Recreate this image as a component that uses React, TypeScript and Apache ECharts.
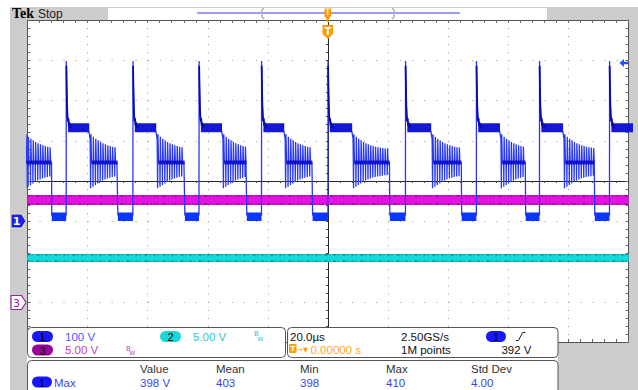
import React, { useEffect, useRef } from "react";
import * as echarts from "echarts";

// ---- scope settings ----
const timeMin = -100; // µs (20 µs/div, 10 div)
const timeMax = 100;
const timeInterval = 20;
const divMin = -4;
const divMax = 4;
const ch1Scale = 100; // V/div
const ch1Offset = -1.0; // div
const ch23Scale = 5; // V/div
const ch23Offset = -3.0; // div

// ---- channel 1 waveform (µs, V) ----
const ringStart = [-100.6, -79.0, -56.7, -34.8, -14.1, 8.5, 34.8, 57.7, 78.7];
const dropTimes = [-92.0, -70.0, -47.7, -27.1, -5.2, 20.5, 44.4, 65.7, 88.7];
const riseTimes = [-87.1, -64.9, -42.9, -22.1, 0.0, 25.8, 49.4, 70.4, 93.7];
const ringPeriod = 0.8; // µs
const ringHigh = [216, 210, 205, 201, 197, 194, 191, 189, 187, 185, 184, 183, 182, 181, 181, 180];
const ringLow = [82, 86, 90, 94, 98, 101, 104, 106, 108, 110, 111, 112, 113, 114, 114, 115];
const ringCore = 146;
const lowLevel = 11;
const plateauLevel = 232;
const spikePeak = 398;
const spikeDecayOffsets = [0.12, 0.25, 0.4, 0.55, 0.7, 0.85, 1.0, 1.2, 1.4, 1.7];
const spikeDecayValues = [340, 290, 262, 248, 256, 238, 246, 233, 238, 232];
const droopOffsets = [-1.0, -0.5, -0.15];
const droopValues = [229, 221, 204];

// ---- channels 2 & 3 (V) ----
const ch2Times = [-100, 100];
const ch2Values = [5.43, 5.43];
const ch3Times = [-100, 100];
const ch3Values = [12.64, 12.64];

// ---- readouts ----
const measHeaders = ["Value", "Mean", "Min", "Max", "Std Dev"];
const measValues = ["398 V", "403", "398", "410", "4.00"];
const measX = [140, 216, 300, 386, 471];

type P = [number, number | null];

function buildCh1() {
  const trace: P[] = [];
  const plateau: P[] = [];
  const low: P[] = [];
  const core: P[] = [];
  const spike: P[] = [];
  for (let i = 0; i < ringStart.length; i++) {
    const rs = ringStart[i];
    const dt = dropTimes[i];
    const rt = riseTimes[i];
    for (let c = 0; ; c++) {
      const tc = rs + c * ringPeriod;
      if (tc + 0.3 > dt) break;
      const k = Math.min(c, ringHigh.length - 1);
      trace.push([tc, ringLow[k]], [tc + 0.12, ringHigh[k]], [tc + 0.3, ringCore], [Math.min(tc + ringPeriod - 0.05, dt), ringCore]);
    }
    core.push([rs + 0.3, ringCore], [dt, ringCore], [dt + 0.01, null]);
    trace.push([dt + 0.08, lowLevel + 4], [rt - 0.03, lowLevel + 4]);
    low.push([dt + 0.08, lowLevel], [rt - 0.02, lowLevel], [rt, null]);
    trace.push([rt, spikePeak]);
    spike.push([rt + 0.03, spikePeak - 12]);
    for (let j = 0; j < spikeDecayOffsets.length; j++) {
      trace.push([rt + spikeDecayOffsets[j], spikeDecayValues[j]]);
      spike.push([rt + spikeDecayOffsets[j], spikeDecayValues[j]]);
    }
    spike.push([rt + 2, null]);
    const next = i + 1 < ringStart.length ? ringStart[i + 1] : null;
    if (next !== null) {
      plateau.push([rt + 0.6, plateauLevel], [next - 0.45, plateauLevel], [next, null]);
      for (let j = 0; j < droopOffsets.length; j++) trace.push([next + droopOffsets[j], droopValues[j]]);
    } else {
      plateau.push([rt + 0.6, plateauLevel], [102, plateauLevel]);
      trace.push([102, plateauLevel]);
    }
  }
  const toDiv = (arr: P[]) => arr.map(([t, v]) => [t, v === null ? null : v / ch1Scale + ch1Offset]);
  return { trace: toDiv(trace), plateau: toDiv(plateau), low: toDiv(low), core: toDiv(core), spike: toDiv(spike) };
}

const FONT = '11.5px "Liberation Sans", Arial, sans-serif';

function txt(x: number, y: number, text: string, fill: string, font = FONT, align = "left") {
  return { type: "text", x, y, z: 110, silent: true, style: { text, fill, font, align, verticalAlign: "middle" } };
}
function pill(x: number, y: number, w: number, h: number, fill: string, label: string) {
  return [
    { type: "rect", z: 105, silent: true, shape: { x, y, width: w, height: h, r: h / 2 }, style: { fill } },
    txt(x + w / 2, y + h / 2 + 0.5, label, "#000", '11px "Liberation Sans", Arial, sans-serif', "center"),
  ];
}

export default function App() {
  const ref = useRef<HTMLDivElement>(null);
  useEffect(() => {
    if (!ref.current) return;
    const chart = echarts.init(ref.current, undefined, { renderer: "svg" });
    const d = buildCh1();
    const toCh23 = (ts: number[], vs: number[]) => ts.map((t, i) => [t, vs[i] / ch23Scale + ch23Offset]);
    const ch2 = toCh23(ch2Times, ch2Values);
    const ch3 = toCh23(ch3Times, ch3Values);

    const xBase: any = {
      type: "value", min: timeMin, max: timeMax, interval: timeInterval,
      axisLabel: { show: false },
      axisLine: { show: true, onZero: false, lineStyle: { color: "#555", width: 1 } },
      axisTick: { show: true, inside: true, length: 3, lineStyle: { color: "#666" } },
      minorTick: { show: true, splitNumber: 5, length: 3, lineStyle: { color: "#666" } },
      splitLine: { show: false },
    };
    const yBase: any = {
      type: "value", min: divMin, max: divMax, interval: 1,
      axisLabel: { show: false },
      axisLine: { show: true, onZero: false, lineStyle: { color: "#555", width: 1 } },
      axisTick: { show: true, inside: true, length: 3, lineStyle: { color: "#666" } },
      minorTick: { show: true, splitNumber: 5, length: 3, lineStyle: { color: "#666" } },
      splitLine: { show: false },
    };
    const lineS = (data: any, color: string, width: number, extra: any = {}) => ({
      type: "line", data, showSymbol: false, symbol: "none", silent: true, connectNulls: false,
      clip: true,
      lineStyle: { color, width, ...extra },
    });

    const graphic: any[] = [
      // frame backgrounds
      { type: "rect", silent: true, shape: { x: 10, y: 7, width: 98, height: 13 }, style: { fill: "#cccccc" } },
      { type: "rect", silent: true, shape: { x: 10, y: 7, width: 17, height: 383 }, style: { fill: "#cccccc" } },
      { type: "rect", silent: true, shape: { x: 547, y: 7, width: 91, height: 13 }, style: { fill: "#cccccc" } },
      { type: "rect", silent: true, shape: { x: 628.5, y: 7, width: 10, height: 383 }, style: { fill: "#cccccc" } },
      { type: "rect", silent: true, shape: { x: 558, y: 342.5, width: 80, height: 48 }, style: { fill: "#cccccc" } },
      { type: "line", silent: true, shape: { x1: 108, y1: 7.5, x2: 547, y2: 7.5 }, style: { stroke: "#cfcfcf", lineWidth: 1 } },
      // record view bar
      { type: "line", silent: true, shape: { x1: 197, y1: 13, x2: 460, y2: 13 }, style: { stroke: "#9d9df2", lineWidth: 2.2 } },
      { type: "polyline", silent: true, shape: { points: [[264, 8], [262, 10], [262, 17], [264, 19]] }, style: { stroke: "#aaaaaa", lineWidth: 1.4, fill: "none" } },
      { type: "polyline", silent: true, shape: { points: [[392, 8], [394, 10], [394, 17], [392, 19]] }, style: { stroke: "#aaaaaa", lineWidth: 1.4, fill: "none" } },
      { type: "polygon", silent: true, z: 50, shape: { points: [[324.5, 8], [331, 8], [331, 16], [328.8, 19], [328.8, 22], [326.7, 22], [326.7, 19], [324.5, 16]] }, style: { fill: "#ff9a00" } },
      txt(327.8, 12.5, "T", "#ffe0a0", 'bold 8px "DejaVu Sans", sans-serif', "center"),
      // title
      txt(12, 13.5, "Tek", "#000", 'bold 14px "Liberation Serif", serif'),
      txt(38, 13.5, "Stop", "#222", '12px "Liberation Sans", Arial, sans-serif'),
      // trigger position marker
      { type: "polygon", silent: true, z: 50, shape: { points: [[322.5, 25], [333, 25], [333, 34], [327.8, 39], [322.5, 34]] }, style: { fill: "#ff9a00" } },
      { ...txt(327.8, 31, "T", "#ffffff", 'bold 10px "DejaVu Sans", sans-serif', "center"), z: 51 },
      // channel ground markers
      { type: "polygon", silent: true, z: 50, shape: { points: [[11, 214], [21.5, 214], [26, 221], [21.5, 228], [11, 228]] }, style: { fill: "#1a22f0", stroke: "#eeeaa8", lineWidth: 1 } },
      { ...txt(16.5, 221.5, "1", "#ffffff", 'bold 11px "DejaVu Sans", sans-serif', "center"), z: 51 },
      { type: "polygon", silent: true, z: 50, shape: { points: [[11, 295.5], [21.5, 295.5], [26, 302.5], [21.5, 309.5], [11, 309.5]] }, style: { fill: "#ffffff", stroke: "#a020a0", lineWidth: 1.2 } },
      { ...txt(16.5, 303, "3", "#a020a0", '11px "DejaVu Sans", sans-serif', "center"), z: 51 },
      // trigger level arrow
      { type: "polygon", silent: true, z: 50, shape: { points: [[619.5, 63], [624, 59], [624, 61.7], [628, 61.7], [628, 64.3], [624, 64.3], [624, 67]] }, style: { fill: "#2250ff" } },
      // panels
      { type: "rect", silent: true, z: 100, shape: { x: 27.5, y: 327.5, width: 258, height: 30, r: 4 }, style: { fill: "#ffffff", stroke: "#555", lineWidth: 1 } },
      { type: "rect", silent: true, z: 100, shape: { x: 287.5, y: 327.5, width: 270.5, height: 30, r: 4 }, style: { fill: "#ffffff", stroke: "#555", lineWidth: 1 } },
      { type: "rect", silent: true, z: 100, shape: { x: 27.5, y: 360.5, width: 530.5, height: 36, r: 4 }, style: { fill: "#ffffff", stroke: "#555", lineWidth: 1 } },
      // panel 1
      ...pill(32, 331, 21, 11, "#1818ff", "1"),
      txt(65, 336.5, "100 V", "#4f55ff"),
      ...pill(160, 331, 21, 11, "#16d8d8", "2"),
      txt(193, 336.5, "5.00 V", "#2fc6d0"),
      txt(254, 334.3, "B", "#2fc6d0", '7px "DejaVu Sans", sans-serif'),
      txt(257.3, 338.3, "W", "#2fc6d0", '6px "DejaVu Sans", sans-serif'),
      ...pill(32, 344.5, 21, 11, "#990099", "3"),
      txt(65, 350, "5.00 V", "#c23cc2"),
      txt(126, 348.5, "B", "#c23cc2", '7px "DejaVu Sans", sans-serif'),
      txt(129.3, 352.5, "W", "#c23cc2", '6px "DejaVu Sans", sans-serif'),
      // panel 2
      txt(290, 336.5, "20.0µs", "#111"),
      { type: "rect", silent: true, z: 105, shape: { x: 289, y: 344, width: 7.5, height: 9, r: 1 }, style: { fill: "#ffa000" } },
      txt(292.8, 348.8, "T", "#ffffff", 'bold 7px "DejaVu Sans", sans-serif', "center"),
      txt(296.8, 349.5, "→", "#ffa000", '7px "DejaVu Sans", sans-serif'),
      txt(303, 349.5, "▼", "#ffa000", '6.5px "DejaVu Sans", sans-serif'),
      txt(310.5, 350, "0.00000 s", "#ffaa22"),
      txt(401, 336.5, "2.50GS/s", "#111"),
      txt(401, 350, "1M points", "#111"),
      ...pill(486, 331, 20, 11, "#1818ff", "1"),
      { type: "polyline", silent: true, z: 110, shape: { points: [[516, 340.5], [518.5, 340.5], [522.5, 332.5], [525.5, 332.5]] }, style: { stroke: "#222", lineWidth: 1, fill: "none" } },
      txt(531.5, 350, "392 V", "#111", FONT, "right"),
      // panel 3
      ...pill(32, 376.5, 20, 11, "#1818ff", "1"),
      txt(54, 382.5, "Max", "#3a46ee"),
    ];
    measHeaders.forEach((h, i) => graphic.push(txt(measX[i], 368.5, h, "#333")));
    measValues.forEach((v, i) => graphic.push(txt(measX[i], 382.5, v, "#3a46ee")));

    chart.setOption({
      animation: false,
      backgroundColor: "#ffffff",
      grid: { left: 27.5, top: 20, width: 601, height: 322, containLabel: false },
      xAxis: [
        { ...xBase, position: "bottom", splitLine: { show: true, lineStyle: { color: "#9a9a9a", width: 1, type: [1, 7.05] } } },
        { ...xBase, position: "top" },
        { ...xBase, position: "bottom", axisLine: { show: true, onZero: true, lineStyle: { color: "#2a2a2a", width: 1 } }, axisTick: { show: true, inside: false, length: 2, lineStyle: { color: "#444" } }, minorTick: { show: true, splitNumber: 5, length: 2, lineStyle: { color: "#444" } } },
      ],
      yAxis: [
        { ...yBase, position: "left", splitLine: { show: true, lineStyle: { color: "#9a9a9a", width: 1, type: [1, 11.02] } } },
        { ...yBase, position: "right" },
        { ...yBase, position: "left", axisLine: { show: true, onZero: true, lineStyle: { color: "#2a2a2a", width: 1 } }, axisTick: { show: true, inside: false, length: 2, lineStyle: { color: "#444" } }, minorTick: { show: true, splitNumber: 5, length: 2, lineStyle: { color: "#444" } } },
      ],
      series: [
        lineS(ch2, "#18d2d2", 8),
        lineS(ch2, "#0b8585", 8, { type: [2, 2, 1, 4, 3, 2, 1, 3] }),
        lineS(ch2, "#12dada", 5),
        lineS(ch3, "#dd10dd", 10),
        lineS(ch3, "#8a168a", 10, { type: [2, 2, 1, 4, 3, 2, 1, 3, 1, 2] }),
        lineS(ch3, "#e412e4", 6.5),
        lineS(d.trace, "rgb(40,55,245)", 1.3),
        lineS(d.plateau, "#1418d4", 9),
        lineS(d.low, "#0b36ff", 8.5),
        lineS(d.core, "rgba(10,12,195,0.85)", 4),
        lineS(d.spike, "#0a0aa8", 1.8),
      ],
      graphic,
    });
    return () => chart.dispose();
  }, []);
  return (
    <div
      ref={ref}
      style={{ position: "fixed", left: 0, top: 0, width: 638, height: 390, background: "#fff" }}
    />
  );
}
